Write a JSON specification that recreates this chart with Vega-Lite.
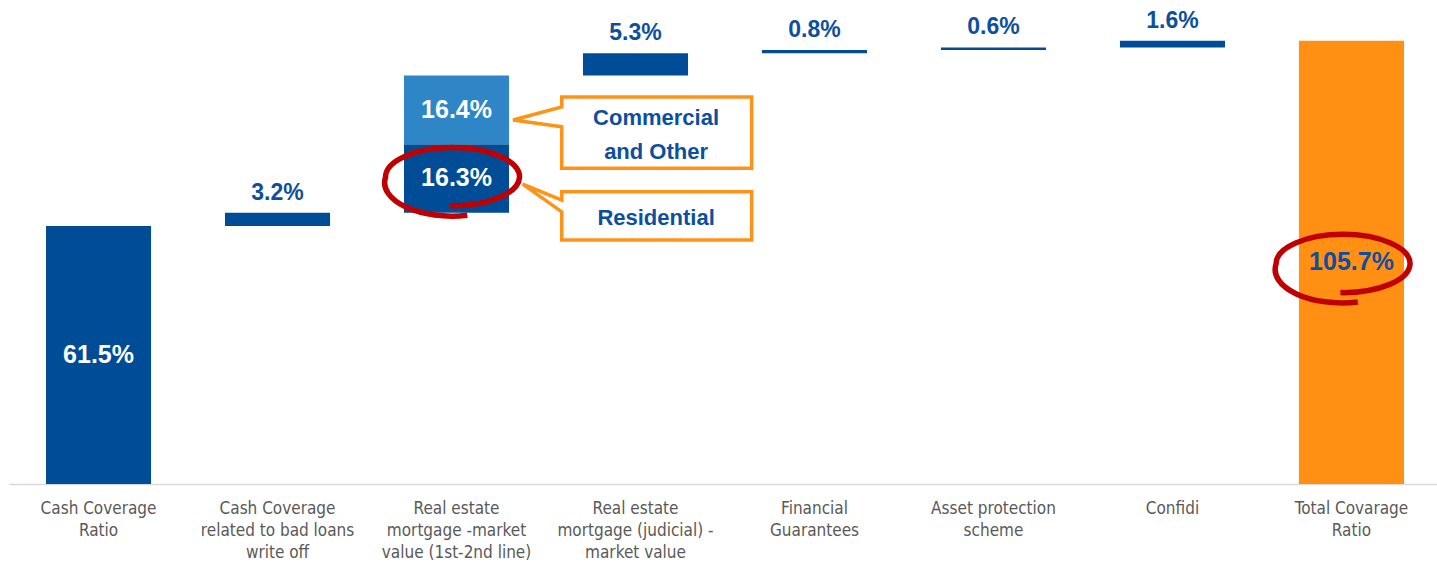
{
  "$schema": "https://vega.github.io/schema/vega-lite/v6.json",
  "width": 1432,
  "height": 484,
  "padding": {"left": 9, "top": 0, "right": 0, "bottom": 0},
  "background": "white",
  "config": {"view": {"stroke": null}},
  "datasets": {
    "bars": [
      {"cat": "Cash Coverage|Ratio", "seg": "Base", "start": 0, "end": 61.5, "label": "61.5%"},
      {"cat": "Cash Coverage|related to bad loans|write off", "seg": "Add", "start": 61.5, "end": 64.7, "label": "3.2%"},
      {"cat": "Real estate|mortgage -market|value (1st-2nd line)", "seg": "Residential", "start": 64.7, "end": 81.0, "label": "16.3%"},
      {"cat": "Real estate|mortgage -market|value (1st-2nd line)", "seg": "Commercial", "start": 81.0, "end": 97.4, "label": "16.4%"},
      {"cat": "Real estate|mortgage (judicial) -|market value", "seg": "Add", "start": 97.4, "end": 102.7, "label": "5.3%"},
      {"cat": "Financial|Guarantees", "seg": "Add", "start": 102.7, "end": 103.5, "label": "0.8%"},
      {"cat": "Asset protection|scheme", "seg": "Add", "start": 103.5, "end": 104.1, "label": "0.6%"},
      {"cat": "Confidi", "seg": "Add", "start": 104.1, "end": 105.7, "label": "1.6%"},
      {"cat": "Total Covarage|Ratio", "seg": "Total", "start": 0, "end": 105.7, "label": "105.7%"}
    ],
    "callouts": [
      {"c": "A", "i": 1, "x": 3.088, "y": 92.3},
      {"c": "A", "i": 2, "x": 4.149, "y": 92.3},
      {"c": "A", "i": 3, "x": 4.149, "y": 75.3},
      {"c": "A", "i": 4, "x": 3.088, "y": 75.3},
      {"c": "A", "i": 5, "x": 3.088, "y": 85.2},
      {"c": "A", "i": 6, "x": 2.816, "y": 86.8},
      {"c": "A", "i": 7, "x": 3.088, "y": 89.9},
      {"c": "A", "i": 8, "x": 3.088, "y": 92.3},
      {"c": "B", "i": 1, "x": 3.088, "y": 69.7},
      {"c": "B", "i": 2, "x": 4.149, "y": 69.7},
      {"c": "B", "i": 3, "x": 4.149, "y": 58.2},
      {"c": "B", "i": 4, "x": 3.088, "y": 58.2},
      {"c": "B", "i": 5, "x": 3.088, "y": 64.9},
      {"c": "B", "i": 6, "x": 2.870, "y": 71.5},
      {"c": "B", "i": 7, "x": 3.088, "y": 67.7},
      {"c": "B", "i": 8, "x": 3.088, "y": 69.7}
    ],
    "callout_text": [
      {"x": 3.615, "y": 87.2, "t": "Commercial"},
      {"x": 3.615, "y": 79.2, "t": "and Other"},
      {"x": 3.615, "y": 63.5, "t": "Residential"}
    ],
    "rings": [
      {"x": 2.478, "y": 73.2},
      {"x": 7.453, "y": 52.5}
    ]
  },
  "layer": [
    {
      "data": {"name": "bars"},
      "transform": [{"calculate": "(datum.start + datum.end) / 2", "as": "mid"}],
      "encoding": {
        "x": {
          "field": "cat",
          "type": "nominal",
          "sort": null,
          "scale": {"paddingInner": 0.413, "paddingOuter": 0.2067},
          "axis": {
            "title": null,
            "labelExpr": "split(datum.label, '|')",
            "labelAngle": 0,
            "domainColor": "#D9D9D9",
            "domainWidth": 1.5,
            "ticks": false,
            "labelFont": "'Liberation Sans Narrow', 'DejaVu Sans Condensed', Roboto, sans-serif",
            "labelFontSize": 17,
            "labelColor": "#595959",
            "labelPadding": 16,
            "labelLineHeight": 22,
            "labelBaseline": "top",
            "labelLimit": 0
          }
        }
      },
      "layer": [
        {
          "mark": {"type": "bar"},
          "encoding": {
            "y": {"field": "start", "type": "quantitative", "scale": {"domain": [0, 115.4], "nice": false}, "axis": null},
            "y2": {"field": "end"},
            "color": {
              "field": "seg",
              "type": "nominal",
              "scale": {
                "domain": ["Base", "Add", "Residential", "Commercial", "Total"],
                "range": ["#004C97", "#004C97", "#004C97", "#2E86C6", "#FF9013"]
              },
              "legend": null
            }
          }
        },
        {
          "transform": [{"filter": "datum.seg == 'Base' || datum.seg == 'Residential' || datum.seg == 'Commercial'"}],
          "mark": {"type": "text", "font": "Liberation Sans", "fontWeight": "bold", "fontSize": 25, "color": "white", "baseline": "middle"},
          "encoding": {
            "y": {"field": "mid", "type": "quantitative"},
            "text": {"field": "label"}
          }
        },
        {
          "transform": [{"filter": "datum.seg == 'Total'"}],
          "mark": {"type": "text", "font": "Liberation Sans", "fontWeight": "bold", "fontSize": 25, "color": "#0D4F9E", "baseline": "middle"},
          "encoding": {
            "y": {"field": "mid", "type": "quantitative"},
            "text": {"field": "label"}
          }
        },
        {
          "transform": [{"filter": "datum.seg == 'Add'"}],
          "mark": {"type": "text", "font": "Liberation Sans", "fontWeight": "bold", "fontSize": 23, "color": "#0D4F9E", "baseline": "bottom", "dy": -8},
          "encoding": {
            "y": {"field": "end", "type": "quantitative"},
            "text": {"field": "label"}
          }
        }
      ]
    },
    {
      "data": {"name": "callouts"},
      "mark": {"type": "line", "stroke": "#FF9317", "strokeWidth": 3.5, "strokeJoin": "miter", "strokeCap": "square"},
      "encoding": {
        "x": {"field": "x", "type": "quantitative", "scale": {"domain": [0, 8], "nice": false, "zero": false}, "axis": null},
        "y": {"field": "y", "type": "quantitative"},
        "detail": {"field": "c"},
        "order": {"field": "i"}
      }
    },
    {
      "data": {"name": "callout_text"},
      "mark": {"type": "text", "font": "Liberation Sans", "fontWeight": "bold", "fontSize": 22, "color": "#0D4F9E", "baseline": "middle"},
      "encoding": {
        "x": {"field": "x", "type": "quantitative", "scale": {"domain": [0, 8], "nice": false, "zero": false}, "axis": null},
        "y": {"field": "y", "type": "quantitative"},
        "text": {"field": "t"}
      }
    },
    {
      "data": {"name": "rings"},
      "mark": {
        "type": "point",
        "shape": "M 0.22 0.57 A 1 0.5 0 0 1 -1 0 A 1 0.44 0 0 1 1 0 A 1 0.44 0 0 1 -0.04 0.43",
        "size": 17956,
        "filled": false,
        "opacity": 1,
        "stroke": "#C00000",
        "strokeWidth": 5.5
      },
      "encoding": {
        "x": {"field": "x", "type": "quantitative", "scale": {"domain": [0, 8], "nice": false, "zero": false}, "axis": null},
        "y": {"field": "y", "type": "quantitative"}
      }
    }
  ],
  "resolve": {"scale": {"x": "independent"}}
}
